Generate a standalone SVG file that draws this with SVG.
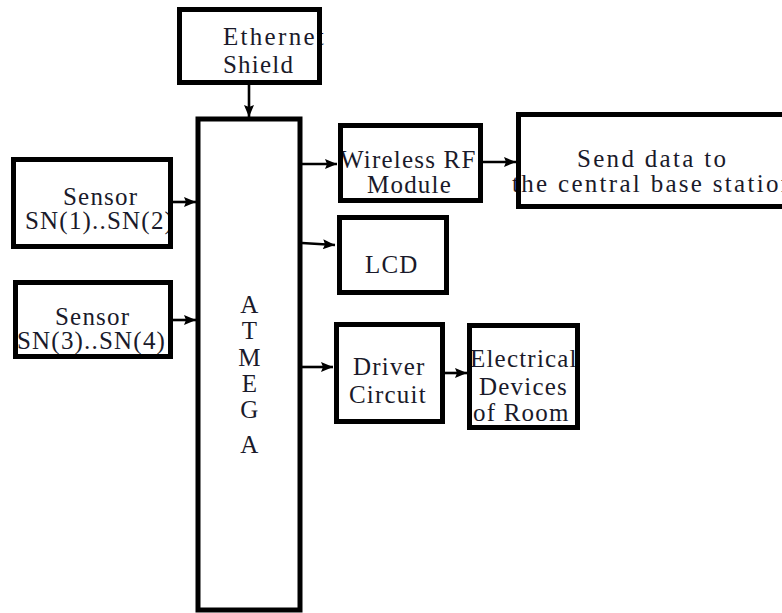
<svg xmlns="http://www.w3.org/2000/svg" width="782" height="613" viewBox="0 0 782 613">
<defs>
<style>
.box{fill:none;stroke:#000;stroke-width:5}
.t{font-family:"Liberation Serif","DejaVu Serif",serif;font-size:25px;fill:#1a1a2a;letter-spacing:1.2px}
.w{letter-spacing:2.3px}
.c{text-anchor:middle}
.conn{stroke:#000;stroke-width:2.6;fill:none}
</style>
<marker id="ah" viewBox="0 0 12 10" refX="12" refY="5" markerWidth="13" markerHeight="10" markerUnits="userSpaceOnUse" orient="auto">
<path d="M0,0 L12,5 L0,10 L2,5 z" fill="#000"/>
</marker>
</defs>
<rect width="782" height="613" fill="#fff"/>
<g id="connectors">
<line class="conn" x1="249" y1="85" x2="249" y2="117" marker-end="url(#ah)"/>
<line class="conn" x1="173" y1="202" x2="196" y2="202" marker-end="url(#ah)"/>
<line class="conn" x1="173" y1="320" x2="196" y2="320" marker-end="url(#ah)"/>
<line class="conn" x1="302" y1="164" x2="337" y2="164" marker-end="url(#ah)"/>
<line class="conn" x1="302" y1="243" x2="335" y2="245" marker-end="url(#ah)"/>
<line class="conn" x1="302" y1="367" x2="333" y2="367" marker-end="url(#ah)"/>
<line class="conn" x1="483" y1="162" x2="516" y2="162" marker-end="url(#ah)"/>
<line class="conn" x1="445" y1="373" x2="467" y2="373" marker-end="url(#ah)"/>
</g>
<g id="ethernet">
<text class="t w" x="223" y="45">Ethernet</text>
<text class="t" x="223" y="73">Shield</text>
<rect class="box" x="179.5" y="9.5" width="140" height="73"/>
</g>
<g id="atmega">
<rect class="box" x="198" y="119" width="102" height="491" stroke-width="4.5"/>
<text class="t c" x="250" y="313">A</text>
<text class="t c" x="250" y="339">T</text>
<text class="t c" x="250" y="366">M</text>
<text class="t c" x="250" y="392">E</text>
<text class="t c" x="250" y="418">G</text>
<text class="t c" x="250" y="453">A</text>
</g>
<g id="sensor1">
<text class="t" x="63" y="205">Sensor</text>
<text class="t" x="25" y="229">SN(1)..SN(2)</text>
<rect class="box" x="13.5" y="159.5" width="157" height="87"/>
</g>
<g id="sensor2">
<text class="t" x="55" y="325">Sensor</text>
<text class="t" x="17" y="349">SN(3)..SN(4)</text>
<rect class="box" x="15.5" y="282.5" width="155" height="74"/>
</g>
<g id="wireless">
<text class="t" x="340" y="168">Wireless RF</text>
<text class="t" x="367" y="193">Module</text>
<rect class="box" x="340.5" y="125.5" width="140" height="75"/>
</g>
<g id="send">
<text class="t w" x="577" y="167">Send data to</text>
<text class="t w" x="512" y="192">the central base station</text>
<rect class="box" x="518.5" y="114.5" width="275" height="92"/>
</g>
<g id="lcd">
<text class="t" x="365" y="273">LCD</text>
<rect class="box" x="339.5" y="217.5" width="107" height="75"/>
</g>
<g id="driver">
<text class="t" x="353" y="375">Driver</text>
<text class="t" x="349" y="403">Circuit</text>
<rect class="box" x="336.5" y="324.5" width="106" height="97"/>
</g>
<g id="electrical">
<text class="t" x="470" y="367">Electrical</text>
<text class="t" x="479" y="395">Devices</text>
<text class="t" x="473" y="421">of Room</text>
<rect class="box" x="469.5" y="325.5" width="108" height="102"/>
</g>
</svg>
